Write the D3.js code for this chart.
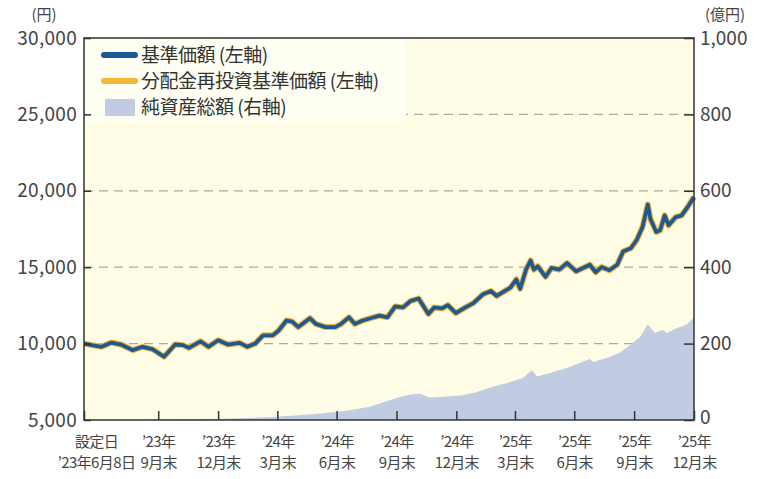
<!DOCTYPE html>
<html>
<head>
<meta charset="utf-8">
<script src="https://cdn.jsdelivr.net/npm/d3@7"></script>
<style>
body { margin: 0; background: #fff; }
text { font-family: "Noto Sans CJK JP", "Noto Sans", sans-serif; }
</style>
</head>
<body>
<div id="chart-area"></div>
<script>
// 基準価額 (円)
var navDates = ["2023-06-08","2023-06-20","2023-07-05","2023-07-20","2023-08-04","2023-08-22","2023-09-06","2023-09-21",
  "2023-10-09","2023-10-26","2023-11-07","2023-11-16","2023-12-04","2023-12-16","2023-12-31","2024-01-15","2024-02-02",
  "2024-02-14","2024-02-26","2024-03-09","2024-03-24","2024-04-02","2024-04-14","2024-04-23","2024-05-02","2024-05-20",
  "2024-05-29","2024-06-13","2024-06-28","2024-07-07","2024-07-19","2024-07-28","2024-08-09","2024-08-21","2024-09-04",
  "2024-09-16","2024-09-28","2024-10-10","2024-10-22","2024-11-03","2024-11-18","2024-11-27","2024-12-09","2024-12-18",
  "2024-12-30","2025-01-14","2025-01-26","2025-02-10","2025-02-22","2025-03-03","2025-03-15","2025-03-24","2025-04-02",
  "2025-04-08","2025-04-17","2025-04-24","2025-04-29","2025-05-05","2025-05-17","2025-05-26","2025-06-07","2025-06-19",
  "2025-07-03","2025-07-24","2025-08-02","2025-08-11","2025-08-23","2025-09-04","2025-09-13","2025-09-25","2025-10-04",
  "2025-10-13","2025-10-21","2025-10-25","2025-11-03","2025-11-09","2025-11-16","2025-11-22","2025-12-03","2025-12-12",
  "2025-12-21","2025-12-31"];
var navValues = [10000,9900,9790,10070,9940,9570,9790,9640,
  9140,9940,9900,9720,10150,9790,10220,9940,10050,
  9790,10000,10540,10540,10860,11510,11440,11080,11660,
  11290,11080,11080,11290,11720,11290,11510,11660,11830,
  11720,12430,12370,12800,12950,11940,12370,12300,12520,
  12000,12370,12650,13230,13440,13120,13440,13660,14200,
  13590,14840,15440,14840,15060,14370,14950,14840,15270,
  14730,15160,14670,15010,14800,15160,16020,16240,16780,
  17640,19100,18170,17310,17420,18390,17740,18280,18390,
  18930,19600];

// 純資産総額 (億円)
var aumDates = ["2023-06-08","2023-08-18","2023-11-02","2024-01-03","2024-02-13","2024-04-04","2024-05-25","2024-07-16",
  "2024-08-20","2024-09-12","2024-10-01","2024-10-21","2024-11-05","2024-11-20","2024-12-10","2025-01-06","2025-01-29",
  "2025-02-21","2025-03-19","2025-04-12","2025-04-26","2025-05-04","2025-05-24","2025-06-23","2025-07-24","2025-07-29",
  "2025-08-19","2025-09-08","2025-09-27","2025-10-09","2025-10-21","2025-11-01","2025-11-13","2025-11-19","2025-12-05",
  "2025-12-20","2025-12-31"];
var aumValues = [0,1,2,3,5,9,15,24,
  35,48,58,67,69,59,61,64,72,
  85,97,110,130,114,123,139,160,152,
  162,176,200,217,250,228,236,228,241,
  250,268];

var tickDates = ["2023-06-08","2023-09-30","2023-12-31","2024-03-31","2024-06-30","2024-09-30",
  "2024-12-31","2025-03-31","2025-06-30","2025-09-30","2025-12-31"];
var tickLine1 = ["設定日","’23年","’23年","’24年","’24年","’24年","’24年","’25年","’25年","’25年","’25年"];
var tickLine2 = ["’23年6月8日","9月末","12月末","3月末","6月末","9月末","12月末","3月末","6月末","9月末","12月末"];
var leftTicks = [5000,10000,15000,20000,25000,30000];
var rightTicks = [0,200,400,600,800,1000];
var legendLabels = ["基準価額 (左軸)","分配金再投資基準価額 (左軸)","純資産総額 (右軸)"];

var parse = d3.timeParse("%Y-%m-%d");
var nav = navDates.map(function(d, i) { return {date: parse(d), v: navValues[i]}; });
var aum = aumDates.map(function(d, i) { return {date: parse(d), v: aumValues[i]}; });

var margin = {left: 84, right: 64, top: 38, bottom: 59};
var width = 758 - margin.left - margin.right;
var height = 479 - margin.top - margin.bottom;

var svg = d3.select("#chart-area").append("svg")
    .attr("width", 758)
    .attr("height", 479);
var g = svg.append("g")
    .attr("transform", "translate(" + margin.left + "," + margin.top + ")");

var x = d3.scaleTime()
    .domain([parse(tickDates[0]), parse(tickDates[tickDates.length - 1])])
    .range([0, width]);
var yL = d3.scaleLinear().domain([5000, 30000]).range([height, 0]);
var yR = d3.scaleLinear().domain([0, 1000]).range([height, 0]);

// background
g.append("rect")
    .attr("width", width)
    .attr("height", height)
    .attr("fill", "#fffde6");

// grid
g.selectAll(".grid")
    .data([10000, 15000, 20000, 25000])
  .enter().append("line")
    .attr("x1", 0).attr("x2", width)
    .attr("y1", function(d) { return yL(d); })
    .attr("y2", function(d) { return yL(d); })
    .attr("stroke", "#a9a9a9")
    .attr("stroke-width", 1.3)
    .attr("stroke-dasharray", "9,6");

// net assets area
var area = d3.area()
    .x(function(d) { return x(d.date); })
    .y0(height)
    .y1(function(d) { return yR(d.v); });
g.append("path")
    .datum(aum)
    .attr("d", area)
    .attr("fill", "#c1cbe2");

// legend box
g.append("rect")
    .attr("x", 2).attr("y", 2)
    .attr("width", 320).attr("height", 82)
    .attr("fill", "#fffff3");

// lines
var line = d3.line()
    .x(function(d) { return x(d.date); })
    .y(function(d) { return yL(d.v); });
g.append("path")
    .datum(nav)
    .attr("d", line)
    .attr("fill", "none")
    .attr("stroke", "#f2b43c")
    .attr("stroke-width", 6)
    .attr("stroke-linejoin", "round");
g.append("path")
    .datum(nav)
    .attr("d", line)
    .attr("fill", "none")
    .attr("stroke", "#1d5a93")
    .attr("stroke-width", 3.8)
    .attr("stroke-linejoin", "round");

// frame
g.append("rect")
    .attr("width", width)
    .attr("height", height)
    .attr("fill", "none")
    .attr("stroke", "#333")
    .attr("stroke-width", 1.5);

// axes
var xAxis = d3.axisBottom(x)
    .tickValues(tickDates.map(parse))
    .tickSize(-9)
    .tickFormat("");
var xg = g.append("g")
    .attr("transform", "translate(0," + height + ")")
    .call(xAxis);
xg.select(".domain").remove();
xg.selectAll(".tick line").attr("stroke", "#333").attr("stroke-width", 1.5);
xg.selectAll(".tick").each(function(d, i) {
    var t = d3.select(this).select("text")
        .attr("fill", "#444")
        .attr("font-size", "15px")
        .attr("letter-spacing", "-0.6px")
        .attr("text-anchor", "middle")
        .attr("y", 0)
        .attr("dy", 0)
        .attr("x", i === 0 ? 12 : 0);
    t.append("tspan").attr("x", i === 0 ? 12 : 0).attr("y", 27).text(tickLine1[i]);
    t.append("tspan").attr("x", i === 0 ? 12 : 0).attr("y", 48).text(tickLine2[i]);
});

var yAxisL = d3.axisLeft(yL)
    .tickValues(leftTicks)
    .tickSize(-7)
    .tickPadding(7)
    .tickFormat(d3.format(","));
var ylg = g.append("g").call(yAxisL);
ylg.select(".domain").remove();
ylg.selectAll(".tick line").attr("stroke", "#333").attr("stroke-width", 1.5);
ylg.selectAll(".tick text").attr("fill", "#444").attr("font-size", "19px").attr("letter-spacing", "0.3px");

var yAxisR = d3.axisRight(yR)
    .tickValues(rightTicks)
    .tickSize(-10)
    .tickPadding(6)
    .tickFormat(d3.format(","));
var yrg = g.append("g")
    .attr("transform", "translate(" + width + ",0)")
    .call(yAxisR);
yrg.select(".domain").remove();
yrg.selectAll(".tick line").attr("stroke", "#333").attr("stroke-width", 1.5);
yrg.selectAll(".tick text").attr("fill", "#444").attr("font-size", "19px");
yrg.selectAll(".tick text").filter(function(d) { return d === 0; }).attr("dy", "0.2em");

// units
svg.append("text")
    .attr("x", 44).attr("y", 20)
    .attr("text-anchor", "middle")
    .attr("font-size", "15px")
    .attr("fill", "#444")
    .text("(円)");
svg.append("text")
    .attr("x", 725).attr("y", 20)
    .attr("text-anchor", "middle")
    .attr("font-size", "15px")
    .attr("fill", "#444")
    .text("(億円)");

// legend
var legend = g.append("g").attr("transform", "translate(0,0)");
var rowY = [17, 43, 69];
legend.append("line")
    .attr("x1", 20).attr("x2", 51)
    .attr("y1", rowY[0]).attr("y2", rowY[0])
    .attr("stroke", "#1d5a93").attr("stroke-width", 6).attr("stroke-linecap", "round");
legend.append("line")
    .attr("x1", 20).attr("x2", 51)
    .attr("y1", rowY[1]).attr("y2", rowY[1])
    .attr("stroke", "#f5b835").attr("stroke-width", 6).attr("stroke-linecap", "round");
legend.append("rect")
    .attr("x", 21).attr("y", rowY[2] - 8)
    .attr("width", 30).attr("height", 17)
    .attr("fill", "#c1cbe2");
legend.selectAll(".lab")
    .data(legendLabels)
  .enter().append("text")
    .attr("x", 57)
    .attr("y", function(d, i) { return rowY[i]; })
    .attr("dy", "0.35em")
    .attr("font-size", "19px")
    .attr("letter-spacing", "-0.5px")
    .attr("fill", "#333")
    .text(function(d) { return d; });
</script>
</body>
</html>
